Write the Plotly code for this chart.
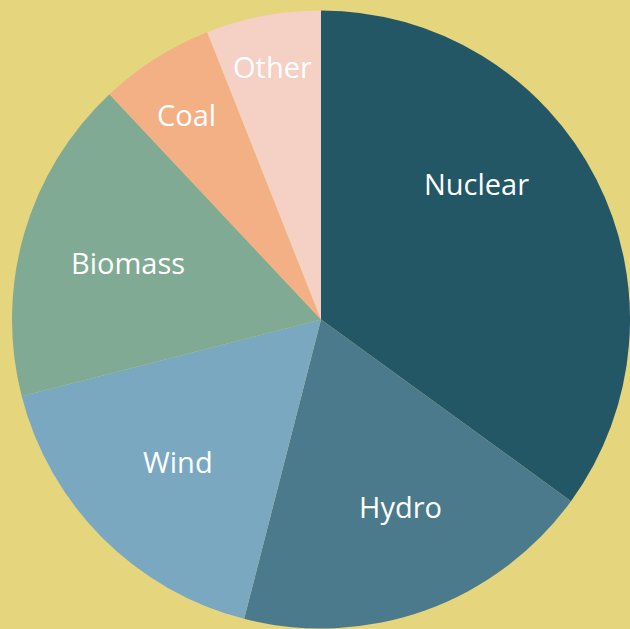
import math
import plotly.graph_objects as go

labels = ["Nuclear", "Hydro", "Wind", "Biomass", "Coal", "Other"]
values = [35, 19, 17, 17, 6, 6]
colors = ["#245766", "#4A7A8C", "#79A8C0", "#80AA94", "#F2B084", "#F5D0C4"]

# label placement (style): radial fraction of radius and angle tweak (deg)
label_radius = [0.665, 0.66, 0.653, 0.652, 0.79, 0.83]
label_angle_shift = [-14, -3, 0, 0, -1, 0]

W, H = 630, 629
BG = "#E5D57D"
cx, cy, r = 321, 319.5, 309

fig = go.Figure(go.Pie(
    labels=labels,
    values=values,
    sort=False,
    direction="clockwise",
    rotation=0,
    marker=dict(colors=colors, line=dict(width=0)),
    textinfo="none",
    hoverinfo="label+value",
    domain=dict(x=[(cx - r) / W, (cx + r) / W], y=[1 - (cy + r) / H, 1 - (cy - r) / H]),
))

total = sum(values)
cum = 0
for lab, v, rf, sh in zip(labels, values, label_radius, label_angle_shift):
    mid = (cum + v / 2) / total * 360 + sh
    cum += v
    a = math.radians(mid)
    px = cx + rf * r * math.sin(a)
    py = cy - rf * r * math.cos(a)
    fig.add_annotation(
        x=px / W, y=1 - py / H, xref="paper", yref="paper",
        text=lab, showarrow=False, xanchor="center", yanchor="middle",
        yshift=1,
        font=dict(family="Open Sans", size=29, color="white"),
    )

fig.update_layout(
    width=W, height=H,
    margin=dict(l=0, r=0, t=0, b=0),
    paper_bgcolor=BG,
    showlegend=False,
)
fig.write_html(
    "out.html",
    config={"displayModeBar": False},
    post_script=f"document.body.style.margin='0';document.body.style.background='{BG}';",
)
